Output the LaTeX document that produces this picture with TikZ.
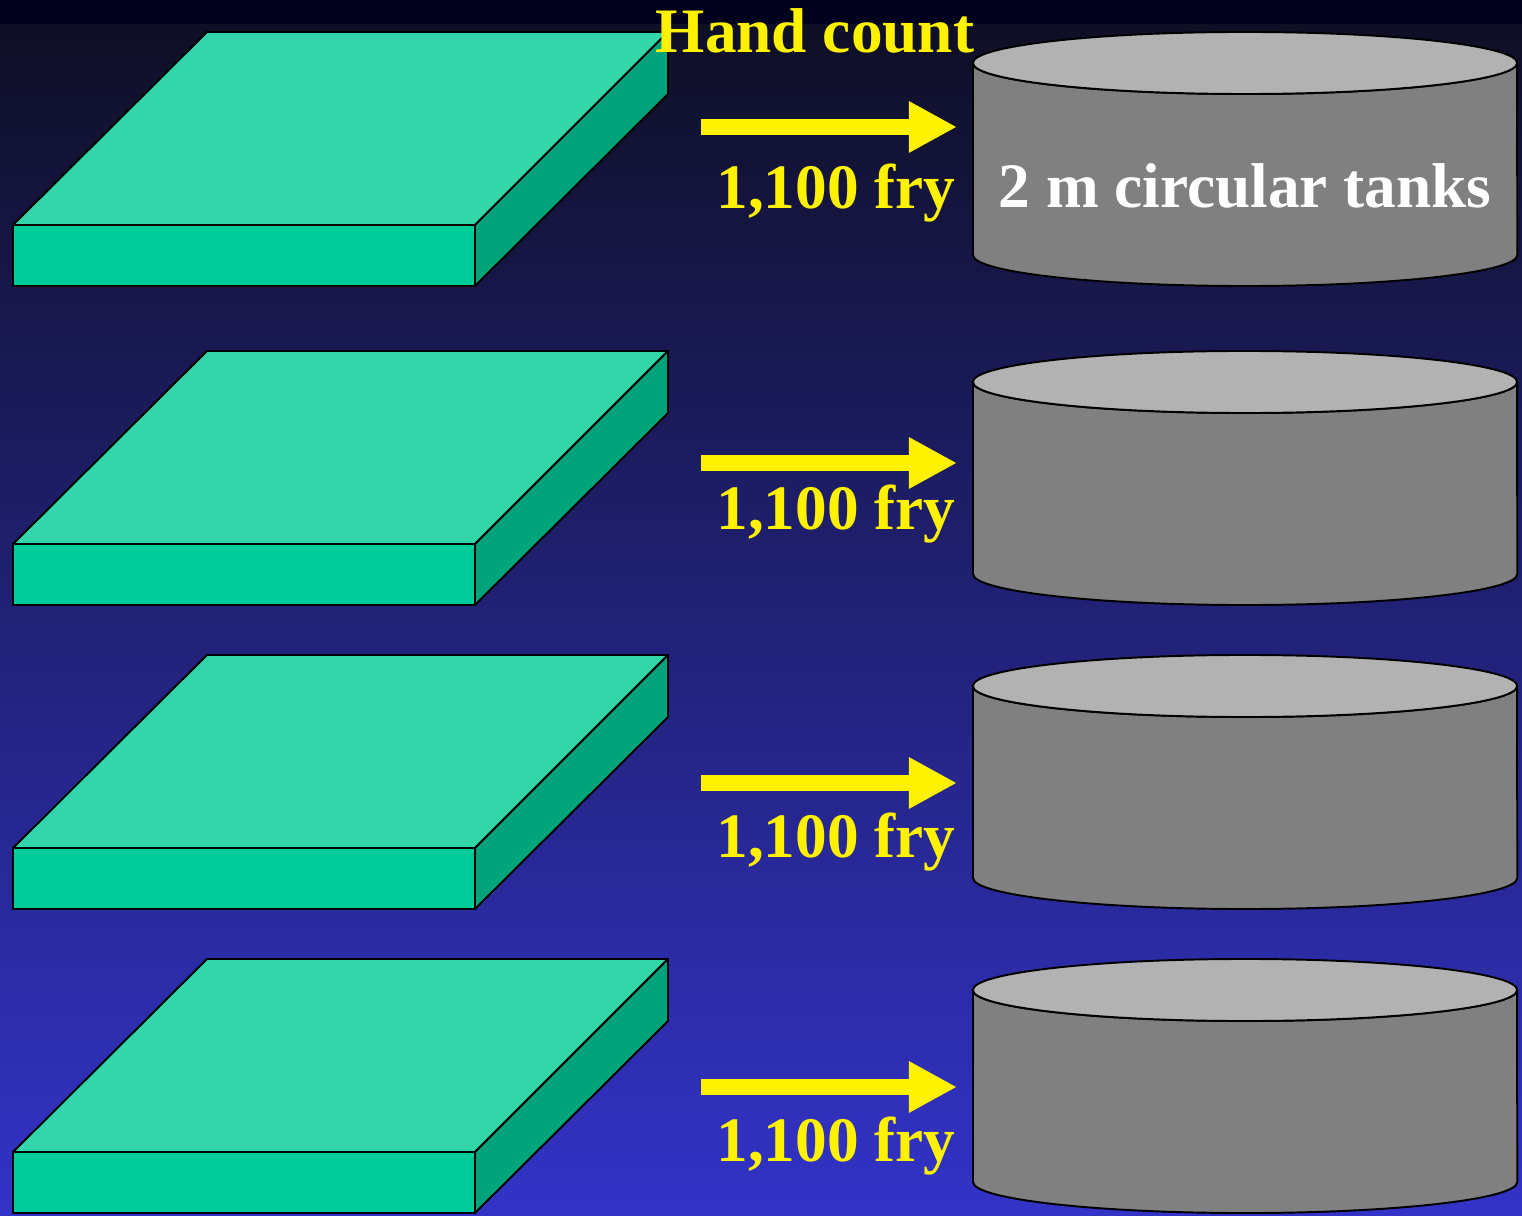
\documentclass[tikz,border=0pt]{standalone}
\usepackage{fontspec}
\setmainfont{Liberation Serif}
\usetikzlibrary{arrows.meta}

\definecolor{bgdark}{RGB}{2,2,30}
\definecolor{bgtop}{RGB}{15,15,38}
\definecolor{bgbot}{RGB}{51,51,200}
\definecolor{traytop}{RGB}{51,214,171}
\definecolor{trayfront}{RGB}{0,204,153}
\definecolor{trayside}{RGB}{0,163,122}
\definecolor{tanktop}{RGB}{178,178,178}
\definecolor{tankside}{RGB}{128,128,128}

\begin{document}
\begin{tikzpicture}[x=0.01cm, y=-0.01cm, line join=round, line width=0.55pt,
    bigtext/.style={font=\bfseries\fontsize{18}{20}\selectfont, inner sep=0, anchor=base},
    countarrow/.style={yellow, line width=0.16cm, -{Triangle[length=0.48cm, width=0.48cm]}}]
    \useasboundingbox (0,0) rectangle (1522,1216);
    \fill[bgdark] (0,0) rectangle (1522,25);
    \shade[top color=bgtop, bottom color=bgbot] (0,25) rectangle (1522,1216);

    \foreach \t/\c/\b [count=\i] in {32/127/209, 351/463/530, 655/783/857, 959/1087/1161}{
        % tray
        \draw[fill=traytop] (13,\t+193) -- (207,\t) -- (668,\t) -- (475,\t+193) -- cycle;
        \draw[fill=trayfront] (13,\t+193) rectangle (475,\t+254);
        \draw[fill=trayside] (475,\t+193) -- (668,\t) -- (668,\t+62) -- (475,\t+254) -- cycle;
        % tank
        \draw[fill=tankside] (973,\t+31) -- (973,\t+223)
            arc[start angle=180, end angle=360, x radius=2.72cm, y radius=0.31cm]
            -- (1517,\t+31)
            arc[start angle=0, end angle=-180, x radius=2.72cm, y radius=0.31cm] -- cycle;
        \draw[fill=tanktop] (1245,\t+31) ellipse[x radius=2.72cm, y radius=0.31cm];
        % count
        \coordinate (from\i) at (701,\c);
        \coordinate (to\i) at (957,\c);
        \draw[countarrow] (from\i) -- (to\i);
        \node[bigtext, yellow] (fry\i) at (836,\b) {1,100 fry};
    }

    \node[bigtext, yellow] (hand) at (815,53) {Hand count};
    \node[bigtext, white] (tanks) at (1245,208) {2 m circular tanks};

\end{tikzpicture}
\end{document}
